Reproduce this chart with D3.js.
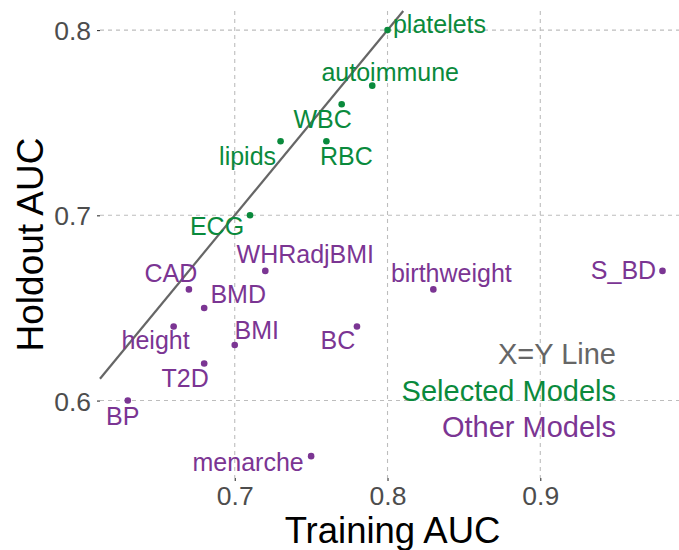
<!DOCTYPE html>
<html>
<head>
<meta charset="utf-8">
<script src="https://cdn.jsdelivr.net/npm/d3@7"></script>
<style>
  html, body { margin: 0; padding: 0; background: #fff; }
  svg { display: block; font-family: "Liberation Sans", Arial, sans-serif; }
</style>
</head>
<body>
<svg id="chart" width="679" height="550"></svg>
<script>
// Model performance: training vs holdout AUC
const models      = ["platelets", "autoimmune", "WBC", "RBC", "lipids", "ECG",
                     "WHRadjBMI", "CAD", "BMD", "height", "BMI", "T2D", "BP",
                     "menarche", "birthweight", "BC", "S_BD"];
const trainingAUC = [0.80, 0.79, 0.77, 0.76, 0.73, 0.71,
                     0.72, 0.67, 0.68, 0.66, 0.70, 0.68, 0.63,
                     0.75, 0.83, 0.78, 0.98];
const holdoutAUC  = [0.80, 0.77, 0.76, 0.74, 0.74, 0.70,
                     0.67, 0.66, 0.65, 0.64, 0.63, 0.62, 0.60,
                     0.57, 0.66, 0.64, 0.67];
const modelGroup  = ["Selected", "Selected", "Selected", "Selected", "Selected", "Selected",
                     "Other", "Other", "Other", "Other", "Other", "Other", "Other",
                     "Other", "Other", "Other", "Other"];
const xTickValues = [0.7, 0.8, 0.9];
const yTickValues = [0.6, 0.7, 0.8];
const legendLabels = ["X=Y Line", "Selected Models", "Other Models"];

// Label placement (pixel offsets of each text centre/baseline from its point)
const labelOffsets = [
  [52, 3], [18, -5], [-19, 24], [20, 24], [-33, 24], [-33, 20],
  [40, -8], [-18, -7], [34, -5], [-18, 23], [22, -6], [-19, 23], [-5, 24],
  [-63, 15], [18, -7], [-19, 23], [-39, 8]
];

const colors = { Selected: "#0a8a3c", Other: "#7b3593", line: "#666666" };

const svg = d3.select("#chart");
const panel = { left: 100, right: 679, top: 11, bottom: 478 };

const x = d3.scaleLinear().domain([0.6118, 0.9908]).range([panel.left, panel.right]);
const y = d3.scaleLinear().domain([0.5582, 0.8103]).range([panel.bottom, panel.top]);

// Dashed grid lines
svg.append("g").selectAll("line.vx").data(xTickValues).join("line")
  .attr("x1", d => x(d)).attr("x2", d => x(d))
  .attr("y1", panel.top).attr("y2", panel.bottom)
  .attr("stroke", "#bdbdbd").attr("stroke-width", 1.1).attr("stroke-dasharray", "4,4");
svg.append("g").selectAll("line.hy").data(yTickValues).join("line")
  .attr("x1", panel.left).attr("x2", panel.right)
  .attr("y1", d => y(d)).attr("y2", d => y(d))
  .attr("stroke", "#bdbdbd").attr("stroke-width", 1.1).attr("stroke-dasharray", "4,4");

// Axes
const xAxis = svg.append("g").attr("transform", `translate(0,${panel.bottom})`)
  .call(d3.axisBottom(x).tickValues(xTickValues).tickSize(3).tickPadding(3).tickFormat(d3.format(".1f")));
const yAxis = svg.append("g").attr("transform", `translate(${panel.left},0)`)
  .call(d3.axisLeft(y).tickValues(yTickValues).tickSize(3).tickPadding(6).tickFormat(d3.format(".1f")));
[xAxis, yAxis].forEach(a => {
  a.select(".domain").remove();
  a.selectAll(".tick line").attr("stroke", "#333333").attr("stroke-width", 1.1);
  a.selectAll(".tick text").attr("fill", "#4d4d4d").style("font-size", "26.5px")
    .style("font-family", "'Liberation Sans', Arial, sans-serif");
});
xAxis.selectAll(".tick text").attr("dy", "0.8em");
yAxis.selectAll(".tick text").attr("dy", "0.36em");

// Axis titles
svg.append("text").attr("x", (panel.left + panel.right) / 2 + 3).attr("y", 543)
  .attr("text-anchor", "middle").style("font-size", "36.5px").attr("fill", "#000")
  .text("Training AUC");
svg.append("text")
  .attr("transform", `translate(43,${(panel.top + panel.bottom) / 2}) rotate(-90)`)
  .attr("text-anchor", "middle").style("font-size", "37px").attr("fill", "#000")
  .text("Holdout AUC");

// X = Y reference line, clipped to the panel
const lo = Math.max(x.domain()[0], y.domain()[0]);
const hi = Math.min(x.domain()[1], y.domain()[1]);
svg.append("line")
  .attr("x1", x(lo)).attr("y1", y(lo)).attr("x2", x(hi)).attr("y2", y(hi))
  .attr("stroke", colors.line).attr("stroke-width", 2.2);

// Points and labels
const data = models.map((m, i) => ({
  name: m, tx: trainingAUC[i], hy: holdoutAUC[i], group: modelGroup[i], off: labelOffsets[i]
}));

svg.append("g").selectAll("circle").data(data).join("circle")
  .attr("cx", d => x(d.tx)).attr("cy", d => y(d.hy)).attr("r", 3.3)
  .attr("fill", d => colors[d.group]);

svg.append("g").selectAll("text").data(data).join("text")
  .attr("x", d => x(d.tx) + d.off[0]).attr("y", d => y(d.hy) + d.off[1])
  .attr("text-anchor", "middle").style("font-size", "25px")
  .attr("fill", d => colors[d.group])
  .text(d => d.name);

// Legend text
const legendColors = [colors.line, colors.Selected, colors.Other];
svg.append("g").selectAll("text").data(legendLabels).join("text")
  .attr("x", 616).attr("y", (d, i) => 364 + i * 36.5)
  .attr("text-anchor", "end").style("font-size", "29px")
  .attr("fill", (d, i) => legendColors[i])
  .text(d => d);
</script>
</body>
</html>
